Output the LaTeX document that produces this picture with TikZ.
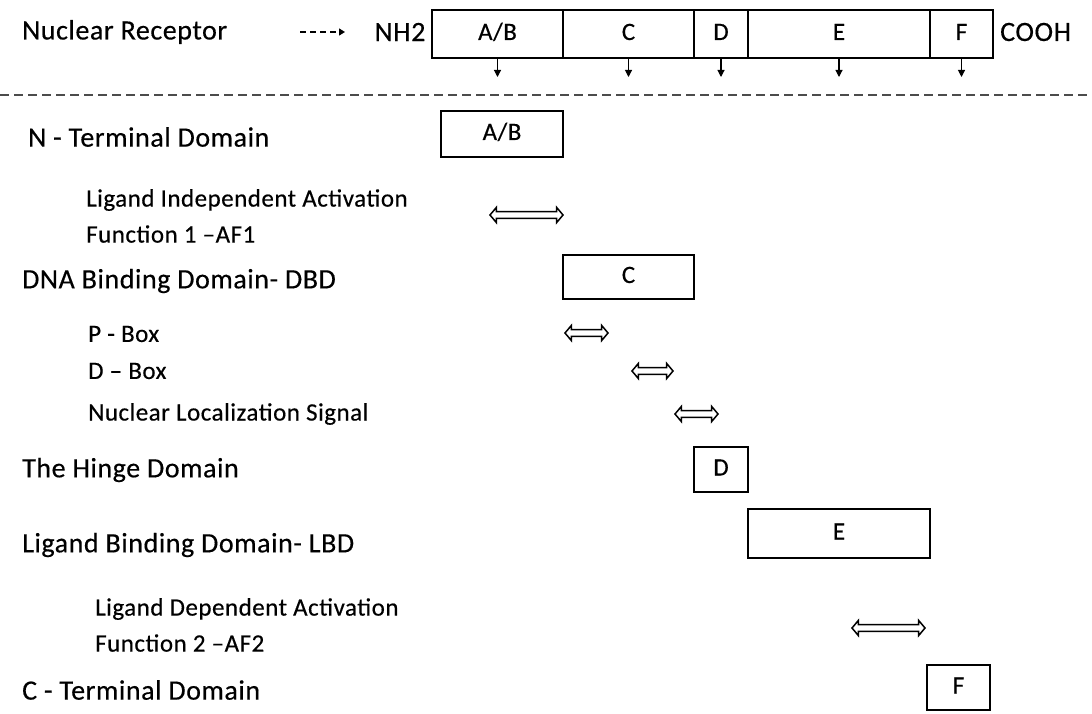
\documentclass[tikz,border=0pt]{standalone}
\usepackage{fontspec}
\setmainfont{Carlito}[LetterSpace=2, FakeBold=0.4]
\usetikzlibrary{arrows.meta,shapes.arrows}

\begin{document}
\begin{tikzpicture}[x=1pt,y=-1pt,
  bigtext/.style={font=\fontsize{28}{32}\selectfont},
  smalltext/.style={font=\fontsize{25}{36}\selectfont, align=left},
  boxtext/.style={font=\fontsize{25}{30}\selectfont, text height=15pt, text depth=3pt},
  label/.style={bigtext, anchor=west, inner sep=0},
  sublabel/.style={smalltext, anchor=west, inner sep=0},
  seg/.style={draw, line width=1.4pt, inner sep=0, outer sep=0, boxtext},
  dombox/.style={draw, line width=1.4pt, inner sep=0, outer sep=0, boxtext},
  spanarrow/.style={shape=double arrow, draw, line width=1.5pt, inner sep=2.6pt,
    double arrow head extend=4.2pt, double arrow tip angle=100},
  tick/.style={line width=1.1pt, -{Triangle[length=7pt,width=7pt]}},
]
\useasboundingbox (0,0) rectangle (1092,714);

% protein chain along the top
\node[label] (nr) at (22,32) {Nuclear Receptor};
\node[label, anchor=center] (nh2) at (400,32) {NH2};
\node[seg, minimum width=131pt, minimum height=48pt] (ab)  at (497.5,34) {A/B};
\node[seg, minimum width=131pt, minimum height=48pt] (c)   at (628.5,34) {C};
\node[seg, minimum width=54pt,  minimum height=48pt] (d)   at (721,34)   {D};
\node[seg, minimum width=182pt, minimum height=48pt] (e)   at (839,34)   {E};
\node[seg, minimum width=63pt,  minimum height=48pt] (f)   at (961.5,34) {F};
\node[label] (cooh) at (1000,32) {COOH};

\coordinate (nrend) at (345,32);
\draw[line width=1.3pt, dash pattern=on 6pt off 4pt, -{Triangle[length=6pt,width=7pt]}]
  ([xshift=-45pt]nrend) -- (nrend);

\foreach \s in {ab,c,d,e,f}
  \draw[tick] (\s.south) -- ++(0,19);

% separator
\coordinate (sepl) at (0,95);
\coordinate (sepr) at (1092,95);
\draw[line width=1.8pt, black!70, dash pattern=on 9pt off 5pt] (sepl) -- (sepr);

% domains
\node[label] (ntd) at (28,137) {N - Terminal Domain};
\node[dombox, minimum width=122pt, minimum height=46pt] (ab2) at (502,134) {A/B};

\node[sublabel] (af1t) at (86,216) {Ligand Independent Activation\\ Function 1 --AF1};
\node[spanarrow, minimum height=73pt] (af1) at (526.5,215) {};

\node[label] (dbd) at (22,281) {DNA Binding Domain- DBD};
\node[dombox, minimum width=131pt, minimum height=44pt] (c2) at (628.5,277) {C};

\node[sublabel] (pboxt) at (88,334) {P - Box};
\node[spanarrow, minimum height=43pt] (pbox) at (586.5,333) {};
\node[sublabel] (dboxt) at (88,371) {D -- Box};
\node[spanarrow, minimum height=41pt] (dbox) at (652.5,371) {};
\node[sublabel] (nlst) at (88,414) {Nuclear Localization Signal};
\node[spanarrow, minimum height=43pt] (nls) at (696.5,414) {};

\node[label] (hinge) at (22,470) {The Hinge Domain};
\node[dombox, minimum width=54pt, minimum height=45pt] (d2) at (721,469.5) {D};

\node[label] (lbd) at (22,545) {Ligand Binding Domain- LBD};
\node[dombox, minimum width=182pt, minimum height=49pt] (e2) at (839,533.5) {E};

\node[sublabel] (af2t) at (95,625) {Ligand Dependent Activation\\ Function 2 --AF2};
\node[spanarrow, minimum height=73pt] (af2) at (888.5,628) {};

\node[label] (ctd) at (22,690) {C - Terminal Domain};
\node[dombox, minimum width=63pt, minimum height=45pt] (f2) at (958.5,687.5) {F};
\end{tikzpicture}
\end{document}
